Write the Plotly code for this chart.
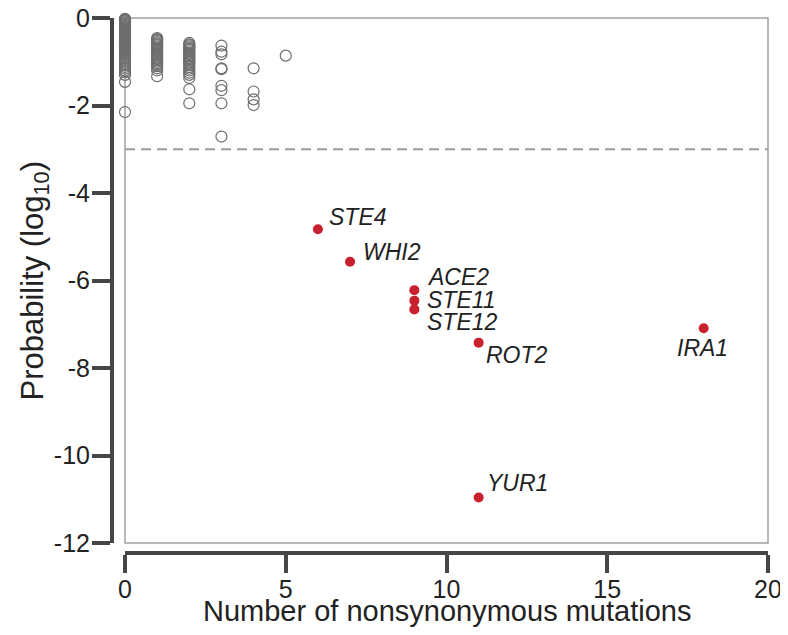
import plotly.graph_objects as go

# ---------------- data ----------------
# background genes: number of nonsynonymous mutations -> log10 probabilities
bg_counts = [0, 1, 2, 3, 4, 5]
bg_probs = [
    [-0.02, -0.03, -0.05, -0.06, -0.08, -0.1, -0.12, -0.14, -0.16, -0.18, -0.2, -0.22,
     -0.24, -0.26, -0.28, -0.3, -0.32, -0.34, -0.36, -0.38, -0.4, -0.42, -0.44, -0.46,
     -0.48, -0.5, -0.52, -0.54, -0.56, -0.58, -0.6, -0.62, -0.64, -0.66, -0.68, -0.7,
     -0.72, -0.74, -0.76, -0.78, -0.8, -0.83, -0.86, -0.9, -0.93, -0.96, -1.0, -1.04,
     -1.08, -1.12, -1.16, -1.2, -1.24, -1.3, -1.46, -2.15],
    [-0.46, -0.48, -0.5, -0.52, -0.55, -0.58, -0.6, -0.62, -0.65, -0.68, -0.7, -0.73,
     -0.76, -0.79, -0.82, -0.85, -0.88, -0.91, -0.94, -0.97, -1.0, -1.03, -1.06, -1.1,
     -1.15, -1.2, -1.33],
    [-0.57, -0.6, -0.62, -0.65, -0.68, -0.7, -0.73, -0.76, -0.79, -0.82, -0.85, -0.88,
     -0.91, -0.94, -0.97, -1.0, -1.04, -1.08, -1.12, -1.16, -1.2, -1.25, -1.3, -1.37,
     -1.63, -1.95],
    [-0.63, -0.77, -0.83, -1.15, -1.17, -1.55, -1.65, -1.95, -2.71],
    [-1.15, -1.68, -1.86, -1.99],
    [-0.86],
]

# significant genes
genes = ["STE4", "WHI2", "ACE2", "STE11", "STE12", "ROT2", "YUR1", "IRA1"]
gene_mut = [6, 7, 9, 9, 9, 11, 11, 18]
gene_prob = [-4.83, -5.57, -6.22, -6.46, -6.66, -7.42, -10.96, -7.09]

threshold = -3

x_ticks = [0, 5, 10, 15, 20]
y_ticks = [0, -2, -4, -6, -8, -10, -12]

# ---------------- styles ----------------
FONT = "Liberation Sans, Arial, Helvetica, sans-serif"
AXC = "#464646"
TXT = "#222222"
label_place = {  # (xshift, yshift, xanchor)
    "STE4": (9, 12, "left"),
    "WHI2": (11, 10, "left"),
    "ACE2": (11, 13, "left"),
    "STE11": (11, 1, "left"),
    "STE12": (11, -13, "left"),
    "ROT2": (5, -12, "left"),
    "YUR1": (6, 15, "left"),
    "IRA1": (-1, -20, "center"),
}

bg_x, bg_y = [], []
for c, ps in zip(bg_counts, bg_probs):
    for p in ps:
        bg_x.append(c)
        bg_y.append(p)

fig = go.Figure()
fig.add_trace(go.Scatter(
    x=bg_x, y=bg_y, mode="markers", cliponaxis=False,
    marker=dict(symbol="circle-open", size=11, color="#6e6e6e", line=dict(width=1.2)),
    hoverinfo="skip", showlegend=False))
fig.add_trace(go.Scatter(
    x=gene_mut, y=gene_prob, mode="markers", cliponaxis=False, text=genes,
    marker=dict(symbol="circle", size=10, color="#c8202c"),
    showlegend=False))

for g, xv, yv in zip(genes, gene_mut, gene_prob):
    xs, ys, xa = label_place[g]
    fig.add_annotation(x=xv, y=yv, xref="x", yref="y", text=f"<i>{g}</i>",
                       showarrow=False, xanchor=xa, yanchor="middle",
                       xshift=xs, yshift=ys,
                       font=dict(family=FONT, size=23, color=TXT))

# threshold line
fig.add_shape(type="line", xref="x domain", yref="y", x0=0, x1=1, y0=threshold, y1=threshold,
              line=dict(color="#9a9a9a", width=2, dash="10px,6px"), layer="below")
# plot frame
fig.add_shape(type="rect", xref="x domain", yref="y domain", x0=0, x1=1, y0=0, y1=1,
              line=dict(color="#a0a0a0", width=1.5), layer="below")

# page body adds an 8px offset; target screen pixels are converted to figure pixels
OFF = 8
W, H = 788 - OFF, 635 - OFF
ml, mr, mt, mb = 100 - OFF, 20, 18 - OFF, 72
pw, ph = W - ml - mr, H - mt - mb


def fx(px):  # screen x pixel -> paper fraction
    return (px - OFF - ml) / pw


def fy(py):  # screen y pixel -> paper fraction
    return (H - mb - (py - OFF)) / ph


fig.update_layout(
    width=W, height=H,
    margin=dict(l=ml, r=mr, t=mt, b=mb, autoexpand=False),
    plot_bgcolor="white", paper_bgcolor="white",
    font=dict(family=FONT, color=TXT),
    xaxis=dict(
        domain=[fx(125), 1], range=[0, 20],
        anchor="free", position=fy(553), automargin=False,
        tickvals=x_ticks, ticktext=[str(v) for v in x_ticks],
        showgrid=False, zeroline=False,
        showline=True, linecolor=AXC, linewidth=4,
        ticks="outside", ticklen=18, tickwidth=4, tickcolor=AXC,
        ticklabelstandoff=-5, ticklabeloverflow="allow",
        tickfont=dict(family=FONT, size=25, color=TXT),
    ),
    yaxis=dict(
        domain=[fy(543), 1], range=[-12, 0],
        anchor="free", position=fx(112), automargin=False,
        tickvals=y_ticks, ticktext=[str(v) for v in y_ticks],
        showgrid=False, zeroline=False,
        showline=True, linecolor=AXC, linewidth=4,
        ticks="outside", ticklen=18, tickwidth=4, tickcolor=AXC,
        ticklabelstandoff=-3, ticklabeloverflow="allow",
        tickfont=dict(family=FONT, size=25, color=TXT),
    ),
)

fig.add_annotation(text="Number of nonsynonymous mutations", xref="x domain", yref="paper",
                   x=0.5, y=fy(611), xanchor="center", yanchor="middle",
                   showarrow=False, font=dict(family=FONT, size=29, color=TXT))
fig.add_annotation(text="Probability (log<sub>10</sub>)", xref="paper", yref="y domain",
                   x=fx(34), y=0.5, xanchor="center", yanchor="middle",
                   textangle=-90, showarrow=False,
                   font=dict(family=FONT, size=31, color=TXT))

fig.write_html("out.html")
